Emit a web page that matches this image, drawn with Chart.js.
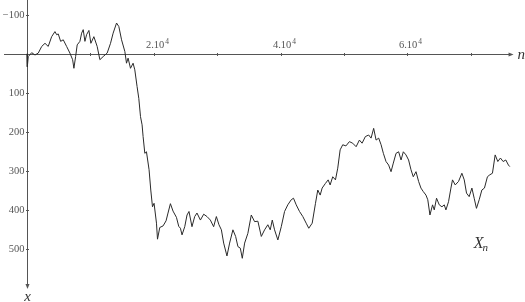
<!DOCTYPE html>
<html>
<head>
<meta charset="utf-8">
<script src="https://cdn.jsdelivr.net/npm/chart.js@4"></script>
<style>
  html, body { margin: 0; padding: 0; background: #fff; }
  #wrap { width: 525px; height: 302px; position: relative; }
</style>
</head>
<body>
<div id="wrap"><canvas id="walk"></canvas></div>
<script>
// step index n and walk position X_n
const stepN = [0,50,200,740,1260,1780,2320,2840,3350,3890,4410,4680,4930,5310,5720,6250,6770,7200,7400,7670,
  7920,8350,8620,8870,9140,9400,9770,10080,10550,11070,11500,12020,12650,13180,13590,14130,14490,14920,15440,15700,
  15950,16330,16740,17010,17370,17640,17910,18160,18320,18590,18850,19260,19530,19800,20050,20430,20590,20950,21470,21940,
  22250,22630,23040,23580,23940,24210,24460,24890,25250,25560,26030,26460,26820,27360,27880,28400,28930,29450,29880,30290,
  30670,31030,31550,31970,32490,32920,33280,33660,33970,34340,34850,35390,35910,36430,36970,37490,38000,38380,38700,39060,
  39580,40120,40640,41150,41690,42050,42480,43000,43520,44050,44460,45000,45520,45880,46260,46570,47090,47520,47830,48240,
  48670,49030,49410,49820,50320,50870,51390,51930,52450,52870,53390,53910,54290,54700,55080,55490,55870,56230,56650,57060,
  57440,57800,58230,58640,59020,59380,59800,60210,60590,60950,61380,61790,62160,62530,62950,63240,63580,63990,64260,64620,
  65050,65470,65840,66100,66510,66890,67140,67570,68090,68620,68990,69350,69770,70200,70560,70920,71350,71770,72180,72650,
  73030,73440,73870,74290,74700,75130,75550,75960,76180];
const walkX = [0,33,7,-3,3,-2,-19,-27,-19,-44,-57,-49,-51,-32,-36,-19,-2,15,37,7,
  -23,-32,-53,-62,-32,-49,-60,-27,-44,-19,15,7,-2,-27,-53,-79,-70,-36,-6,24,
  11,37,24,41,84,114,161,182,212,255,251,297,349,392,383,434,475,445,441,428,
  408,384,403,419,442,447,464,443,413,404,443,417,408,426,411,417,426,443,417,438,
  451,485,518,485,451,468,494,498,524,485,460,413,430,429,468,451,438,451,426,451,
  477,443,404,387,374,370,387,404,417,434,447,434,383,349,362,344,332,323,336,315,
  323,293,246,233,236,225,229,238,221,229,212,208,216,191,221,216,233,255,276,285,
  302,280,255,251,272,251,259,272,297,315,302,327,344,353,362,374,413,387,400,370,
  387,392,387,400,379,344,323,336,327,306,323,357,366,344,370,396,374,349,344,315,
  310,306,259,276,267,276,272,285,289];

const xTicks = [10000, 20000, 30000, 40000, 50000, 60000, 70000];
const xTickLabels = ['', '2.10', '', '4.10', '', '6.10', ''];
const xTickPower = '4';
const yTicks = [-100, 100, 200, 300, 400, 500];
const yTickLabels = ['\u2212100', '100', '200', '300', '400', '500'];
const axisEndN = 76300;
const axisEndX = 595;

const points = stepN.map((n, i) => ({ x: n, y: walkX[i] }));

const serif = '"Liberation Serif", "DejaVu Serif", serif';
const axisColor = '#555';

const axesPlugin = {
    id: 'handAxes',
    beforeDatasetsDraw(chart) {
        const ctx = chart.ctx;
        const sx = chart.scales.x;
        const sy = chart.scales.y;
        const x0 = Math.round(sx.getPixelForValue(0)) + 0.5;
        const y0 = Math.round(sy.getPixelForValue(0)) + 0.5;
        const xEnd = sx.getPixelForValue(axisEndN);
        const yEnd = sy.getPixelForValue(axisEndX);

        ctx.save();
        ctx.strokeStyle = axisColor;
        ctx.fillStyle = axisColor;
        ctx.lineWidth = 1;

        // horizontal axis
        ctx.beginPath();
        ctx.moveTo(4, y0);
        ctx.lineTo(xEnd, y0);
        ctx.stroke();
        ctx.beginPath();
        ctx.moveTo(xEnd + 3, y0);
        ctx.lineTo(xEnd - 2, y0 - 2);
        ctx.lineTo(xEnd - 2, y0 + 2);
        ctx.closePath();
        ctx.fill();

        // vertical axis
        ctx.beginPath();
        ctx.moveTo(x0, 0);
        ctx.lineTo(x0, yEnd);
        ctx.stroke();
        ctx.beginPath();
        ctx.moveTo(x0, yEnd + 3);
        ctx.lineTo(x0 - 2, yEnd - 2);
        ctx.lineTo(x0 + 2, yEnd - 2);
        ctx.closePath();
        ctx.fill();

        // x ticks and labels
        xTicks.forEach((v, i) => {
            const px = Math.round(sx.getPixelForValue(v)) + 0.5;
            ctx.beginPath();
            ctx.moveTo(px, y0 - 1.5);
            ctx.lineTo(px, y0 + 1.5);
            ctx.stroke();
            if (!xTickLabels[i]) return;
            ctx.font = '10.5px ' + serif;
            const base = xTickLabels[i];
            const wBase = ctx.measureText(base).width;
            ctx.font = '7.5px ' + serif;
            const wPow = ctx.measureText(xTickPower).width;
            const left = px + 3 - (wBase + wPow + 1) / 2;
            ctx.textBaseline = 'alphabetic';
            ctx.textAlign = 'left';
            ctx.font = '10.5px ' + serif;
            ctx.fillText(base, left, y0 - 7);
            ctx.font = '7.5px ' + serif;
            ctx.fillText(xTickPower, left + wBase + 1, y0 - 11);
        });

        // y ticks and labels
        ctx.font = '10.5px ' + serif;
        ctx.textAlign = 'right';
        ctx.textBaseline = 'middle';
        yTicks.forEach((v, i) => {
            const py = Math.round(sy.getPixelForValue(v)) + 0.5;
            ctx.beginPath();
            ctx.moveTo(x0 - 1.5, py);
            ctx.lineTo(x0 + 1.5, py);
            ctx.stroke();
            ctx.fillText(yTickLabels[i], x0 - 3, py);
        });

        // axis names
        ctx.fillStyle = '#333';
        ctx.font = 'italic 15px ' + serif;
        ctx.textAlign = 'left';
        ctx.textBaseline = 'middle';
        ctx.fillText('n', xEnd + 7, y0 + 1);
        ctx.textAlign = 'center';
        ctx.fillText('x', x0, yEnd + 11);

        // curve name X_n
        const lx = sx.getPixelForValue(70500);
        const ly = sy.getPixelForValue(485);
        ctx.font = 'italic 16px ' + serif;
        ctx.textAlign = 'left';
        ctx.textBaseline = 'alphabetic';
        ctx.fillText('X', lx, ly + 5);
        const wX = ctx.measureText('X').width;
        ctx.font = 'italic 11px ' + serif;
        ctx.fillText('n', lx + wX - 1, ly + 8);
        ctx.restore();
    }
};

new Chart(document.getElementById('walk'), {
    type: 'line',
    data: {
        datasets: [{
            data: points,
            borderColor: '#2a2a2a',
            borderWidth: 1,
            pointRadius: 0,
            tension: 0,
            fill: false,
            clip: false
        }]
    },
    options: {
        responsive: true,
        maintainAspectRatio: false,
        animation: false,
        layout: { padding: { left: 27, right: 10, top: 0, bottom: 0 } },
        plugins: { legend: { display: false }, tooltip: { enabled: false } },
        scales: {
            x: { type: 'linear', min: 0, max: 77000, display: false },
            y: { type: 'linear', min: -138, max: 636, reverse: true, display: false }
        }
    },
    plugins: [axesPlugin]
});
</script>
</body>
</html>
